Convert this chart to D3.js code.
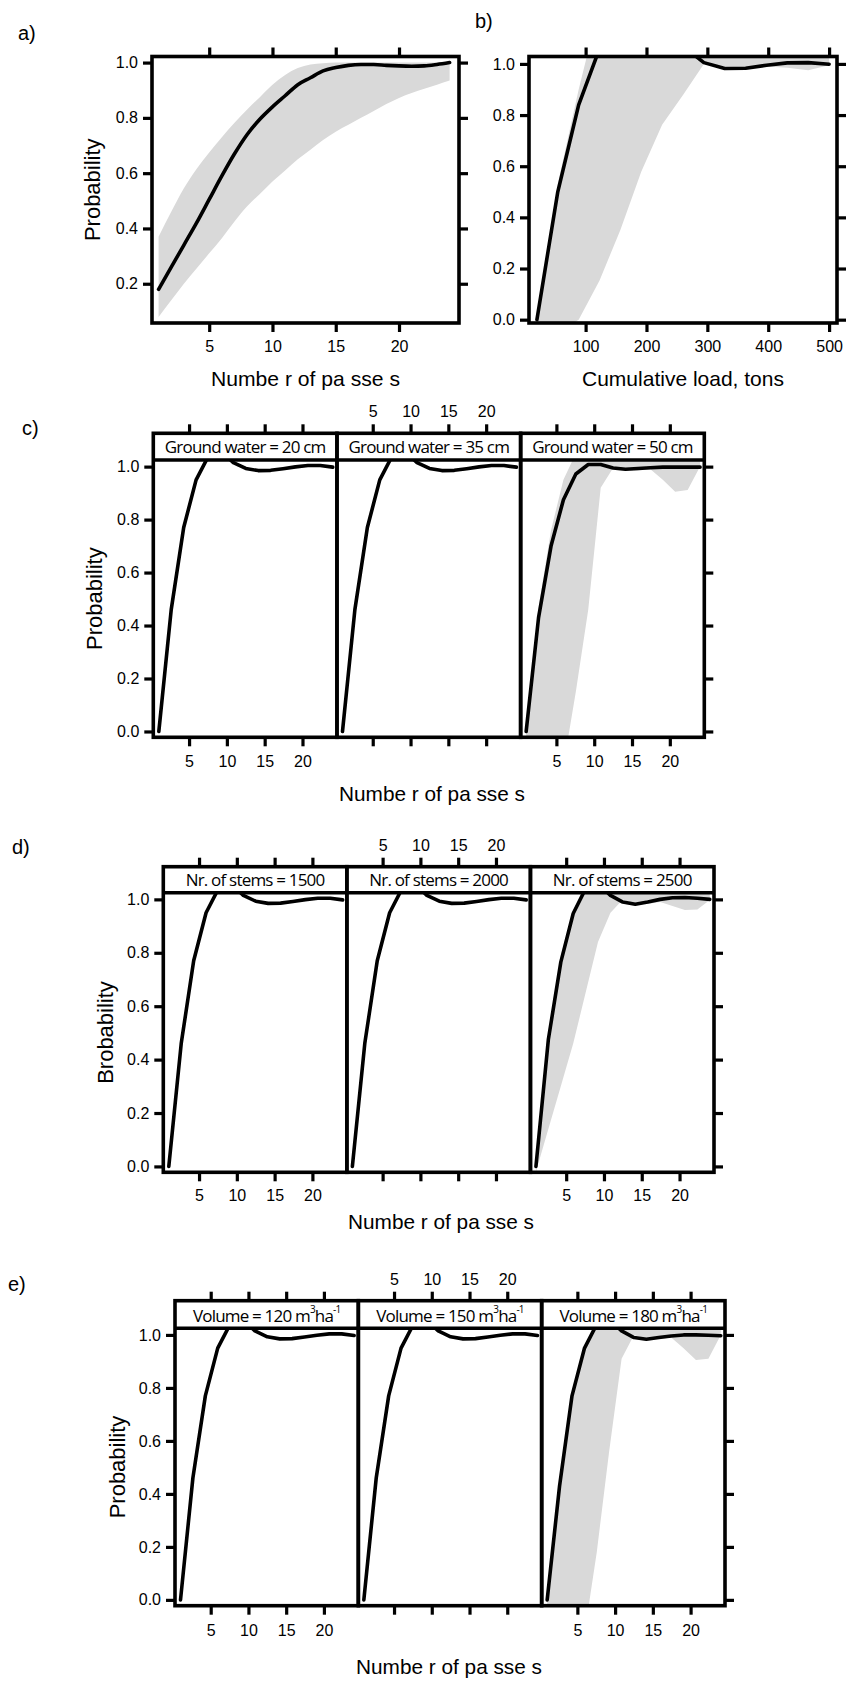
<!DOCTYPE html>
<html><head><meta charset="utf-8">
<script src="https://cdn.jsdelivr.net/npm/d3@7"></script>
<style>
body{margin:0;background:#fff}
text{font-family:"Liberation Sans",Arial,Helvetica,sans-serif;fill:#000}
.strip{font-family:"Open Sans","Noto Sans",sans-serif;letter-spacing:-0.8px}
</style>
</head><body>
<svg id="fig" width="854" height="1687" xmlns="http://www.w3.org/2000/svg"></svg>
<script>
// ---------------- DATA ----------------
// a) probability vs number of passes
const passesA = [1,2,3,4,5,6,7,8,9,10,11,12,13,14,15,16,17,18,19,20,21,22,23,24];
const probA   = [0.18,0.26,0.34,0.42,0.505,0.59,0.67,0.74,0.795,0.84,0.88,0.92,0.945,0.97,0.982,0.99,0.993,0.993,0.99,0.988,0.987,0.988,0.993,1.0];
const lowerA  = [0.08,0.14,0.20,0.255,0.31,0.365,0.425,0.48,0.525,0.57,0.61,0.65,0.685,0.72,0.75,0.775,0.80,0.825,0.85,0.872,0.89,0.905,0.92,0.935];
const upperA  = [0.37,0.46,0.545,0.615,0.675,0.73,0.782,0.83,0.875,0.92,0.955,0.98,0.993,0.998,1.0,1.0,1.0,1.0,1.0,1.0,1.0,1.0,1.0,1.0];

// b) probability vs cumulative load
const loadB  = [20,54.3,88.6,122.9,157.1,191.4,225.7,260,294.3,328.6,362.9,397.1,431.4,465.7,500];
const probB  = [0.0,0.5,0.84,1.06,1.08,1.08,1.08,1.07,1.005,0.982,0.983,0.995,1.004,1.005,0.999];
const lowerB = [-0.05,-0.05,0.0,0.153,0.351,0.578,0.762,0.878,1.0,0.99,0.985,0.99,0.985,0.975,0.995];
const upperB = [0.0,0.53,0.9,1.23,1.2,1.2,1.2,1.2,1.2,1.2,1.2,1.2,1.2,1.2,1.2];

// c), d), e) facetted: number of passes
const passesM = [1,2.64,4.29,5.93,7.57,9.21,10.86,12.5,14.14,15.79,17.43,19.07,20.71,22.36,24];

const probGW20 = [0.0,0.46,0.77,0.95,1.04,1.06,1.015,0.993,0.985,0.986,0.992,0.999,1.004,1.004,0.998];
const probGW35 = [0.0,0.46,0.77,0.95,1.04,1.06,1.015,0.993,0.985,0.986,0.992,0.999,1.004,1.004,0.998];
const probGW50 = [0.0,0.43,0.70,0.875,0.972,1.008,1.008,0.995,0.99,0.993,0.996,0.998,0.998,0.998,0.998];
const lowerGW50 = [-0.05,-0.05,-0.08,-0.13,0.15,0.46,0.92,0.995,0.985,0.985,0.99,0.95,0.905,0.912,1.0];
const upperGW50 = [0.01,0.47,0.76,0.95,1.05,1.1,1.1,1.1,1.1,1.1,1.1,1.1,1.1,1.1,1.1];

const probS1500 = [0.0,0.46,0.77,0.95,1.04,1.06,1.015,0.993,0.985,0.986,0.992,0.999,1.004,1.004,0.998];
const probS2000 = [0.0,0.46,0.77,0.95,1.04,1.06,1.015,0.993,0.985,0.986,0.992,0.999,1.004,1.004,0.998];
const probS2500 = [0.0,0.475,0.765,0.947,1.04,1.06,1.015,0.99,0.982,0.99,1.0,1.006,1.007,1.004,1.0];
const lowerS2500 = [-0.02,0.14,0.30,0.46,0.65,0.84,0.95,1.0,0.982,0.983,0.99,0.975,0.96,0.962,0.998];
const upperS2500 = [0.01,0.49,0.79,0.96,1.05,1.1,1.1,1.1,1.1,1.1,1.1,1.1,1.1,1.1,1.1];

const probV120 = [0.0,0.46,0.77,0.95,1.04,1.06,1.015,0.993,0.985,0.986,0.992,0.999,1.004,1.004,0.998];
const probV150 = [0.0,0.46,0.77,0.95,1.04,1.06,1.015,0.993,0.985,0.986,0.992,0.999,1.004,1.004,0.998];
const probV180 = [0.0,0.43,0.77,0.949,1.04,1.06,1.015,0.99,0.984,0.99,0.996,1.0,1.0,0.999,0.997];
const lowerV180 = [-0.05,-0.05,-0.08,-0.13,0.18,0.56,0.91,1.0,0.985,0.985,0.99,0.95,0.905,0.91,1.0];
const upperV180 = [0.0,0.45,0.79,0.96,1.05,1.1,1.1,1.1,1.1,1.1,1.1,1.1,1.1,1.1,1.1];

// axis domains and ticks
const xDomainA = [0.48, 24.74], yDomainA = [0.058, 1.022];
const xDomainB = [7, 513],      yDomainB = [-0.013, 1.029];
const xDomainM = [0.27, 24.56], yDomainM = [-0.022, 1.025];
const passTicks = [5,10,15,20];
const loadTicks = [100,200,300,400,500];
const probTicksA = [0.2,0.4,0.6,0.8,1.0];
const probTicks = [0.0,0.2,0.4,0.6,0.8,1.0];

const stripsC = ["Ground water = 20 cm","Ground water = 35 cm","Ground water = 50 cm"];
const stripsD = ["Nr. of stems = 1500","Nr. of stems = 2000","Nr. of stems = 2500"];
const stripsE = ["120","150","180"];

// ---------------- DRAWING ----------------
const svg = d3.select("#fig");
const defs = svg.append("defs");
let clipN = 0;
const LW = 3.6, BW = 3.6, TL = 9, TW = 3.2;
const GREY = "#d9d9d9";

function drawData(x, y, top, bottom, xs, ys, lo, hi, curve) {
  curve = curve || d3.curveLinear;
  const id = "clip" + (clipN++);
  const [l, r] = x.range();
  defs.append("clipPath").attr("id", id).append("rect")
    .attr("x", l).attr("y", top).attr("width", r - l).attr("height", bottom - top);
  const g = svg.append("g").attr("clip-path", `url(#${id})`);
  if (lo) {
    const pts = xs.map((v, i) => ({x: v, lo: lo[i], hi: hi[i]}));
    g.append("path").datum(pts)
      .attr("d", d3.area().curve(curve).x(d => x(d.x)).y0(d => y(d.lo)).y1(d => y(d.hi)))
      .attr("fill", GREY).attr("stroke", "none");
  }
  g.append("path").datum(xs.map((v, i) => [v, ys[i]]))
    .attr("d", d3.line().curve(curve).x(d => x(d[0])).y(d => y(d[1])))
    .attr("fill", "none").attr("stroke", "#000").attr("stroke-width", LW)
    .attr("stroke-linejoin", "round").attr("stroke-linecap", "round");
}

function styleAxis(sel, labels) {
  sel.select(".domain").remove();
  sel.selectAll(".tick line").attr("stroke", "#000").attr("stroke-width", TW);
  sel.selectAll(".tick text").attr("font-size", 16).attr("fill", "#000")
    .style("font-family", '"Liberation Sans",Arial,sans-serif');
  if (!labels) sel.selectAll(".tick text").remove();
}

function axis(gen, tx, ty, labels) {
  const g = svg.append("g").attr("transform", `translate(${tx},${ty})`).call(gen);
  styleAxis(g, labels);
  return g;
}

function label(txt, x, y) {
  svg.append("text").attr("x", x).attr("y", y).attr("font-size", 20)
    .attr("dominant-baseline", "central").text(txt);
}

function xTitle(txt, cx, cy, len) {
  const t = svg.append("text").attr("x", cx).attr("y", cy).attr("text-anchor", "middle")
    .attr("dominant-baseline", "central").attr("font-size", 21).text(txt);
  if (len) t.attr("textLength", len).attr("lengthAdjust", "spacingAndGlyphs");
}
function yTitle(txt, cx, cy) {
  svg.append("text").attr("transform", `translate(${cx},${cy}) rotate(-90)`)
    .attr("text-anchor", "middle").attr("dominant-baseline", "central")
    .attr("font-size", 22).text(txt);
}

// ----- a) -----
{
  const L = 152, R = 459, T = 56.5, B = 323;
  const x = d3.scaleLinear().domain(xDomainA).range([L, R]);
  const y = d3.scaleLinear().domain(yDomainA).range([B, T]);
  drawData(x, y, T, B, passesA, probA, lowerA, upperA, d3.curveMonotoneX);
  svg.append("rect").attr("x", L).attr("y", T).attr("width", R - L).attr("height", B - T)
    .attr("fill", "none").attr("stroke", "#000").attr("stroke-width", BW);
  axis(d3.axisBottom(x).tickValues(passTicks).tickSize(TL).tickPadding(9).tickFormat(d3.format("d")), 0, B, true);
  axis(d3.axisTop(x).tickValues(passTicks).tickSize(TL), 0, T, false);
  axis(d3.axisLeft(y).tickValues(probTicksA).tickSize(TL).tickPadding(5).tickFormat(d3.format(".1f")), L, 0, true);
  axis(d3.axisRight(y).tickValues(probTicksA).tickSize(TL), R, 0, false);
  label("a)", 18, 33);
  xTitle("Numbe r of pa sse s", (L + R) / 2, 378, 189);
  yTitle("Probability", 92, (T + B) / 2);
}

// ----- b) -----
{
  const L = 529, R = 837, T = 56.5, B = 323;
  const x = d3.scaleLinear().domain(xDomainB).range([L, R]);
  const y = d3.scaleLinear().domain(yDomainB).range([B, T]);
  drawData(x, y, T, B, loadB, probB, lowerB, upperB);
  svg.append("rect").attr("x", L).attr("y", T).attr("width", R - L).attr("height", B - T)
    .attr("fill", "none").attr("stroke", "#000").attr("stroke-width", BW);
  axis(d3.axisBottom(x).tickValues(loadTicks).tickSize(TL).tickPadding(9).tickFormat(d3.format("d")), 0, B, true);
  axis(d3.axisTop(x).tickValues(loadTicks).tickSize(TL), 0, T, false);
  axis(d3.axisLeft(y).tickValues(probTicks).tickSize(TL).tickPadding(5).tickFormat(d3.format(".1f")), L, 0, true);
  axis(d3.axisRight(y).tickValues(probTicks).tickSize(TL), R, 0, false);
  label("b)", 475, 21);
  xTitle("Cumulative load, tons", (L + R) / 2, 378);
}

// ----- facetted rows -----
function facetRow(cfg) {
  const W = (cfg.right - cfg.left) / 3;
  for (let i = 0; i < 3; i++) {
    const L = cfg.left + i * W, R = L + W;
    const p = cfg.panels[i];
    const x = d3.scaleLinear().domain(xDomainM).range([L, R]);
    const y = d3.scaleLinear().domain(yDomainM).range([cfg.bottom, cfg.strip]);
    drawData(x, y, cfg.strip, cfg.bottom, passesM, p.ys, p.lo, p.hi);
    svg.append("rect").attr("x", L).attr("y", cfg.top).attr("width", W).attr("height", cfg.bottom - cfg.top)
      .attr("fill", "none").attr("stroke", "#000").attr("stroke-width", BW);
    svg.append("line").attr("x1", L).attr("x2", R).attr("y1", cfg.strip).attr("y2", cfg.strip)
      .attr("stroke", "#000").attr("stroke-width", BW);
    // strip label
    const st = svg.append("text").attr("class", "strip").attr("x", (L + R) / 2)
      .attr("y", (cfg.top + cfg.strip) / 2).attr("text-anchor", "middle")
      .attr("dominant-baseline", "central").attr("font-size", 17);
    if (cfg.volume) {
      st.append("tspan").text("Volume = " + p.strip + " m");
      st.append("tspan").attr("font-size", 10).attr("dy", -6).text("3");
      st.append("tspan").attr("dy", 6).text("ha");
      st.append("tspan").attr("font-size", 10).attr("dy", -6).text("-1");
    } else {
      st.text(p.strip);
    }
    axis(d3.axisBottom(x).tickValues(passTicks).tickSize(TL).tickPadding(cfg.padB).tickFormat(d3.format("d")), 0, cfg.bottom, i !== 1);
    axis(d3.axisTop(x).tickValues(passTicks).tickSize(TL).tickPadding(7).tickFormat(d3.format("d")), 0, cfg.top, i === 1);
    if (i === 0) axis(d3.axisLeft(y).tickValues(probTicks).tickSize(TL).tickPadding(5).tickFormat(d3.format(".1f")), L, 0, true);
    if (i === 2) axis(d3.axisRight(y).tickValues(probTicks).tickSize(TL), R, 0, false);
  }
  label(cfg.tag, cfg.tagX, cfg.tagY);
  xTitle("Numbe r of pa sse s", cfg.titleX, cfg.titleY, 186);
  yTitle(cfg.ytitle, cfg.ytitleX, (cfg.strip + cfg.bottom) / 2);
}

facetRow({
  left: 153.3, right: 704.3, top: 433.3, strip: 460, bottom: 737.3, padB: 9.5,
  tag: "c)", tagX: 22, tagY: 428, titleX: 432, titleY: 793.3,
  ytitle: "Probability", ytitleX: 94,
  panels: [
    {strip: stripsC[0], ys: probGW20},
    {strip: stripsC[1], ys: probGW35},
    {strip: stripsC[2], ys: probGW50, lo: lowerGW50, hi: upperGW50}
  ]
});

facetRow({
  left: 163.3, right: 714, top: 866.7, strip: 892.7, bottom: 1172.3, padB: 8,
  tag: "d)", tagX: 12, tagY: 847, titleX: 441, titleY: 1221.7,
  ytitle: "Brobability", ytitleX: 105,
  panels: [
    {strip: stripsD[0], ys: probS1500},
    {strip: stripsD[1], ys: probS2000},
    {strip: stripsD[2], ys: probS2500, lo: lowerS2500, hi: upperS2500}
  ]
});

facetRow({
  left: 175, right: 725, top: 1300.7, strip: 1328.3, bottom: 1605.7, padB: 9.5, volume: true,
  tag: "e)", tagX: 8, tagY: 1284, titleX: 449, titleY: 1666.7,
  ytitle: "Probability", ytitleX: 117,
  panels: [
    {strip: stripsE[0], ys: probV120},
    {strip: stripsE[1], ys: probV150},
    {strip: stripsE[2], ys: probV180, lo: lowerV180, hi: upperV180}
  ]
});
</script>
</body></html>
